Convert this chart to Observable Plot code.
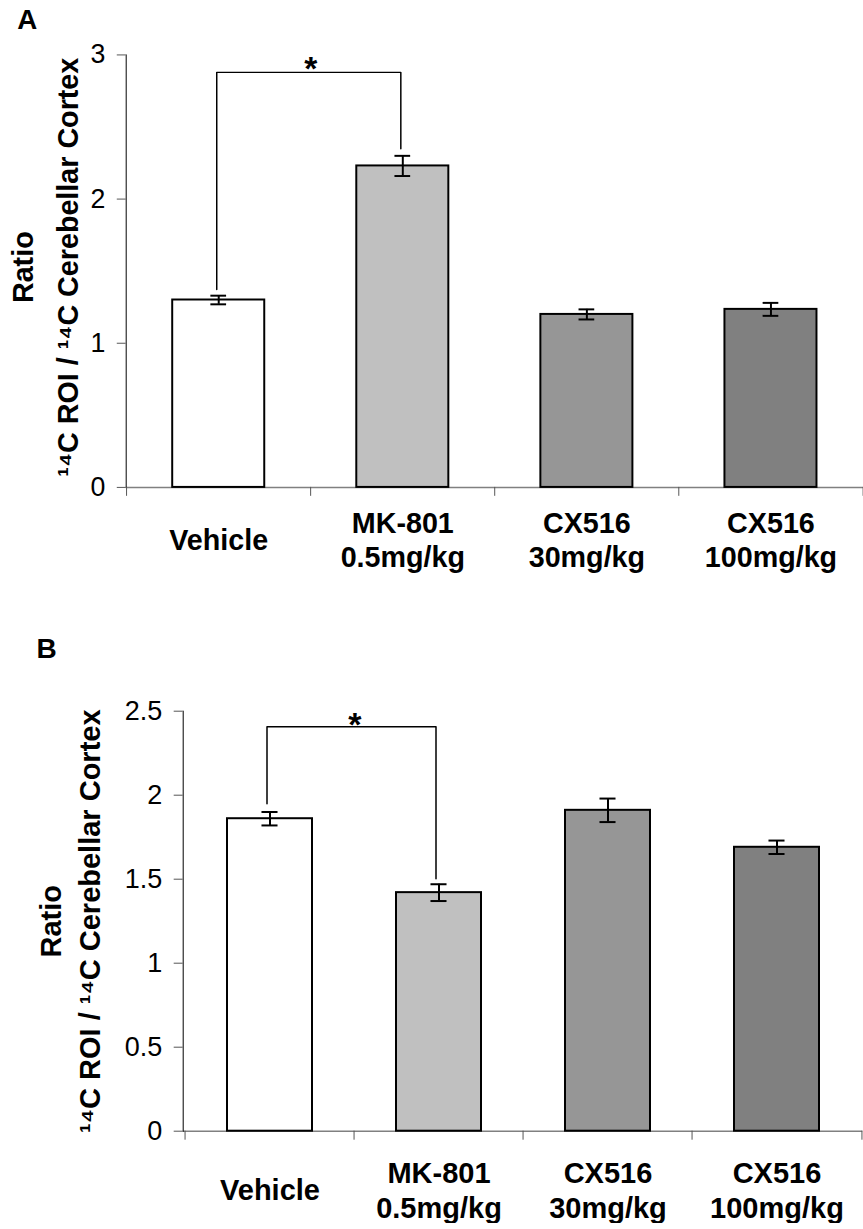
<!DOCTYPE html>
<html><head><meta charset="utf-8">
<script src="https://cdn.jsdelivr.net/npm/d3@7"></script>
<script src="https://cdn.jsdelivr.net/npm/@observablehq/plot@0.6"></script>
<style>
body{margin:0;background:#fff;}
#wrap{width:863px;height:1229px;overflow:hidden;position:relative;background:#fff;}
#wrap svg{display:block;}
</style></head><body><div id="wrap"></div>
<script>
const categories = ["Vehicle", "MK-801\n0.5mg/kg", "CX516\n30mg/kg", "CX516\n100mg/kg"];
const fills = ["#ffffff", "#c0c0c0", "#969696", "#808080"];
const valuesA = [1.30, 2.23, 1.20, 1.235];
const errorsA = [0.03, 0.07, 0.035, 0.045];
const valuesB = [1.86, 1.42, 1.91, 1.69];
const errorsB = [0.04, 0.05, 0.07, 0.04];
const ticksA = [0, 1, 2, 3];
const ticksB = [0, 0.5, 1, 1.5, 2, 2.5];
const bracketIdx = [0, 0, 1, 1];
const bracketA = [1.372, 2.879, 2.879, 2.349];
const bracketB = [1.949, 2.407, 2.407, 1.502];
const yTitle = "Ratio\n¹⁴C ROI / ¹⁴C Cerebellar Cortex";
const FONT = "'Liberation Sans', Arial, Helvetica, sans-serif";

function panel(o) {
  const step = (o.width - o.marginRight - o.marginLeft) / categories.length;
  const data = categories.map((c, i) => ({c, v: o.values[i], e: o.errors[i], f: fills[i]}));
  const br = bracketIdx.map((k, i) => ({c: categories[k], y: o.bracket[i]}));
  const capInset = (step * 0.5 - 16) / 2;
  return Plot.plot({
    width: o.width, height: o.height,
    marginLeft: o.marginLeft, marginRight: o.marginRight, marginTop: o.marginTop, marginBottom: o.marginBottom,
    style: {fontFamily: FONT, fontSize: "26px", background: "white", color: "black"},
    x: {type: "band", domain: categories, paddingInner: 0.5, paddingOuter: 0.25, axis: null},
    y: {domain: [0, o.yMax], axis: null},
    color: {type: "identity"},
    marks: [
      Plot.ruleY([0], {stroke: "#808080", strokeWidth: 1.5}),
      Plot.frame({anchor: "left", stroke: "black", strokeWidth: 1}),
      Plot.axisY({ticks: o.ticks, tickSize: 9, stroke: "#555", fill: "none", label: null}),
      Plot.text(o.ticks, {y: d => d, text: d => `${d}`, frameAnchor: "left", textAnchor: "end", lineAnchor: "middle", dx: -21, fontSize: 27}),
      Plot.axisX({tickSize: 9, fill: "none", stroke: "#555", dx: -step / 2, label: null}),
      Plot.axisX([categories[categories.length - 1]], {tickSize: 9, fill: "none", stroke: "#555", dx: step / 2, label: null}),
      Plot.barY(data, {x: "c", y: "v", fill: "f", stroke: "black", strokeWidth: 2}),
      Plot.ruleX(data, {x: "c", y1: d => d.v - d.e, y2: d => d.v + d.e, stroke: "black", strokeWidth: 2}),
      Plot.tickY(data, {x: "c", y: d => d.v + d.e, stroke: "black", strokeWidth: 2, insetLeft: capInset, insetRight: capInset}),
      Plot.tickY(data, {x: "c", y: d => d.v - d.e, stroke: "black", strokeWidth: 2, insetLeft: capInset, insetRight: capInset}),
      Plot.line(br, {x: "c", y: "y", stroke: "black", strokeWidth: 1.5, dx: o.brDx}),
      Plot.text([br[1]], {x: "c", y: "y", text: () => "*", dx: step / 2, dy: o.starDy, lineAnchor: "bottom", fontSize: 34, fontWeight: "bold"}),
      Plot.text(categories, {x: d => d, text: d => d, frameAnchor: "bottom", lineAnchor: "middle", lineHeight: 1.207, fontSize: 29, fontWeight: "bold", dy: o.labelDy}),
      Plot.text([yTitle], {text: d => d, frameAnchor: "left", rotate: -90, textAnchor: "middle", lineAnchor: "middle", lineHeight: o.titleLH, fontSize: 29, fontWeight: "bold", dx: o.titleDx, dy: o.titleDy}),
      Plot.text([o.letter], {text: d => d, frameAnchor: "top-left", textAnchor: "start", lineAnchor: "bottom", fontSize: 28, fontWeight: "bold", dx: o.letterDx, dy: o.letterDy})
    ]
  });
}

const wrap = document.getElementById("wrap");
wrap.appendChild(panel({
  values: valuesA, errors: errorsA, ticks: ticksA, yMax: 3, bracket: bracketA, letter: "A",
  width: 872, height: 600, marginLeft: 127, marginRight: 0, marginTop: 55, marginBottom: 108,
  titleDx: -85.9, titleDy: -4, titleLH: 1.552, labelDy: 52, letterDx: -110, letterDy: -26, brDx: -2, starDy: 8
}));
wrap.appendChild(panel({
  values: valuesB, errors: errorsB, ticks: ticksB, yMax: 2.5, bracket: bracketB, letter: "B",
  width: 863, height: 629, marginLeft: 182.7, marginRight: 0.7, marginTop: 116.7, marginBottom: 92.3,
  titleDx: -115.5, titleDy: 0, titleLH: 1.379, labelDy: 58, letterDx: -146.7, letterDy: -53.7, brDx: -3, starDy: 9
}));
</script></body></html>
